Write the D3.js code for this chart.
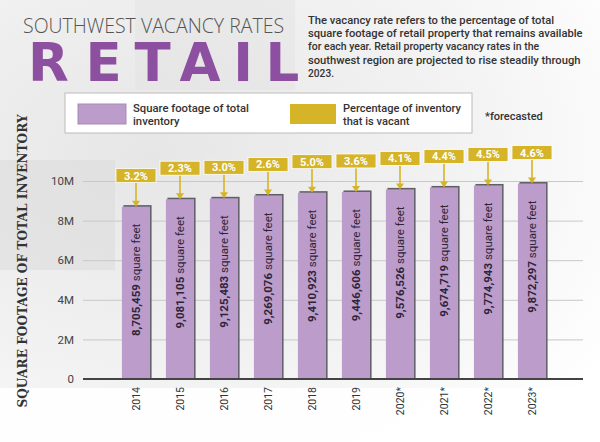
<!DOCTYPE html>
<html><head><meta charset="utf-8">
<script src="https://cdn.jsdelivr.net/npm/d3@7"></script>
<style>html,body{margin:0;padding:0;background:#fff;}svg{display:block;}</style>
</head><body>
<svg id="chart" width="600" height="442"></svg>
<script>
const years = ["2014","2015","2016","2017","2018","2019","2020*","2021*","2022*","2023*"];
const sqft = [8705459,9081105,9125483,9269076,9410923,9446606,9576526,9674719,9774943,9872297];
const vacancy = ["3.2%","2.3%","3.0%","2.6%","5.0%","3.6%","4.1%","4.4%","4.5%","4.6%"];
const yTicks = [0,2000000,4000000,6000000,8000000,10000000];
const tickLabels = ["0","2M","4M","6M","8M","10M"];
const descLines = ["The vacancy rate refers to the percentage of total",
  "square footage of retail property that remains available",
  "for each year. Retail property vacancy rates in the",
  "southwest region are projected to rise steadily through",
  "2023."];
const titleLetters = ["R","E","T","A","I","L"];

const svg = d3.select("#chart");
const purple = "#bb9ccb", yellow = "#d5b428", titlePurple = "#8d50a1";
const sans = "Roboto, 'Liberation Sans', sans-serif";

// horizontally compress a text (placed at 0,0) so its width equals target; pre = transform before scaling
function fit(sel, pre, target){
  const w = sel.node().getComputedTextLength();
  const s = Math.min(1, target / w);
  sel.attr("transform", `${pre} scale(${s},1)`);
}

// background
const defs = svg.append("defs");
const g1 = defs.append("radialGradient").attr("id","bg").attr("cx","0.25").attr("cy","0.35").attr("r","0.9");
g1.append("stop").attr("offset","0").attr("stop-color","#e6e6e6");
g1.append("stop").attr("offset","0.6").attr("stop-color","#f3f3f3");
g1.append("stop").attr("offset","1").attr("stop-color","#ffffff");
svg.append("rect").attr("width",600).attr("height",442).attr("fill","url(#bg)");
svg.append("rect").attr("x",0).attr("y",388).attr("width",600).attr("height",54).attr("fill","#fff").attr("opacity",0.85);
svg.append("rect").attr("x",0).attr("y",160).attr("width",115).attr("height",110).attr("fill","#d9d9d9").attr("opacity",0.5);
svg.append("rect").attr("x",135).attr("y",0).attr("width",160).attr("height",90).attr("fill","#e2e2e2").attr("opacity",0.4);

// titles
svg.append("text").attr("x",23).attr("y",33).text("SOUTHWEST VACANCY RATES")
  .attr("font-family","'Open Sans', 'Noto Sans', sans-serif").attr("font-weight",300)
  .attr("font-size",19.5).attr("fill","#555");
const letterCenters = [48.5,103.5,152.5,200,243,282.5];
svg.append("g").selectAll("text").data(titleLetters).join("text")
  .attr("x",(d,i)=>letterCenters[i]).attr("y",81).attr("text-anchor","middle").text(d=>d)
  .attr("font-family","'DejaVu Sans', sans-serif").attr("font-weight",700)
  .attr("font-size",53).attr("fill",titlePurple);

// description
const descTargets = [249,275,231,273,26];
descLines.forEach((line,i)=>{
  const t = svg.append("text").attr("x",0).attr("y",0).text(line)
    .attr("font-family",sans).attr("font-weight",500).attr("font-size",11.2).attr("fill","#333");
  fit(t, `translate(308,${24+i*13.2})`, descTargets[i]);
});

// legend
svg.append("rect").attr("x",65).attr("y",93).attr("width",407).attr("height",40).attr("fill","#fff").attr("stroke","#bbb").attr("stroke-width",1);
svg.append("rect").attr("x",78).attr("y",104).attr("width",48).attr("height",20).attr("fill",purple).attr("stroke","#a78bb6");
svg.append("rect").attr("x",290).attr("y",104).attr("width",46).attr("height",20).attr("fill",yellow);
const legText = [[133,"Square footage of total","inventory",116],[343,"Percentage of inventory","that is vacant",118]];
legText.forEach(([x,a,b,w])=>{
  const t1 = svg.append("text").text(a).attr("font-family",sans).attr("font-weight",500).attr("font-size",11.5).attr("fill","#333");
  fit(t1, `translate(${x},112)`, w);
  const s = Math.min(1, w / t1.node().getComputedTextLength());
  svg.append("text").text(b).attr("font-family",sans).attr("font-weight",500).attr("font-size",11.5).attr("fill","#333")
    .attr("transform",`translate(${x},124.5) scale(${s},1)`);
});
svg.append("text").attr("x",485).attr("y",120).text("*forecasted")
  .attr("font-family",sans).attr("font-weight",500).attr("font-size",11).attr("fill","#333");

// scales
const y = d3.scaleLinear().domain([0,10000000]).range([379,181]);
const x = d3.scaleBand().domain(years).range([114,554]).paddingInner(0.36).paddingOuter(0.18);

// grid
const grid = svg.append("g").attr("transform","translate(83,0)")
  .call(d3.axisLeft(y).tickValues(yTicks).tickSize(-500).tickFormat((d,i)=>tickLabels[i]).tickPadding(9));
grid.select(".domain").remove();
grid.selectAll(".tick line").attr("stroke","#c8c8c8").attr("stroke-width",1);
grid.selectAll(".tick text").attr("font-family",sans).attr("font-size",11.5).attr("fill","#444");

// y title
svg.append("text").attr("transform","translate(27,261) rotate(-90)").attr("text-anchor","middle")
  .text("SQUARE FOOTAGE OF TOTAL INVENTORY")
  .attr("font-family","'DejaVu Serif', serif").attr("font-weight","bold").attr("font-size",12.2).attr("fill","#333");

// bars
const bars = svg.append("g");
bars.selectAll("rect.sh").data(sqft).join("rect").attr("class","sh")
  .attr("x",(d,i)=>x(years[i])+1.5).attr("y",d=>y(d)-1.5).attr("width",x.bandwidth()).attr("height",d=>y(0)-y(d)+1.5).attr("fill","#5f5f66");
bars.selectAll("rect.b").data(sqft).join("rect").attr("class","b")
  .attr("x",(d,i)=>x(years[i])).attr("y",d=>y(d)).attr("width",x.bandwidth()).attr("height",d=>y(0)-y(d)).attr("fill",purple);
svg.append("line").attr("x1",83).attr("x2",583).attr("y1",y(0)).attr("y2",y(0)).attr("stroke","#444").attr("stroke-width",2);

// bar labels
bars.selectAll("text.v").data(sqft).join("text").attr("class","v")
  .attr("text-anchor","end").attr("font-family",sans).attr("font-size",11.5).attr("fill","#2e2438")
  .each(function(d,i){
    const t = d3.select(this);
    t.append("tspan").attr("font-weight",700).text(d3.format(",")(d));
    t.append("tspan").text(" square feet");
    fit(t, `translate(${x(years[i])+x.bandwidth()/2+4},${y(d)+17}) rotate(-90)`, 113);
  });

// x labels
svg.append("g").selectAll("text").data(years).join("text")
  .attr("transform",d=>`translate(${x(d)+x.bandwidth()/2+3.5},387) rotate(-90)`)
  .attr("text-anchor","end").text(d=>d)
  .attr("font-family",sans).attr("font-size",10.5).attr("fill","#333");

// vacancy callouts
const call = svg.append("g");
vacancy.forEach((v,i)=>{
  const cx = x(years[i])+x.bandwidth()/2;
  const top = y(sqft[i]);
  const bb = top-24;
  call.append("line").attr("x1",cx).attr("x2",cx).attr("y1",bb).attr("y2",top-5).attr("stroke",yellow).attr("stroke-width",1.6);
  call.append("path").attr("d",`M${cx-4},${top-6}L${cx+4},${top-6}L${cx},${top}Z`).attr("fill",yellow);
  call.append("rect").attr("x",cx-20).attr("y",bb-14).attr("width",40).attr("height",14).attr("fill",yellow).attr("stroke","#fff").attr("stroke-width",0.8);
  call.append("text").attr("x",cx).attr("y",bb-3).attr("text-anchor","middle").text(v)
    .attr("font-family",sans).attr("font-weight",700).attr("font-size",11).attr("fill","#fff");
});
</script>
</body></html>
